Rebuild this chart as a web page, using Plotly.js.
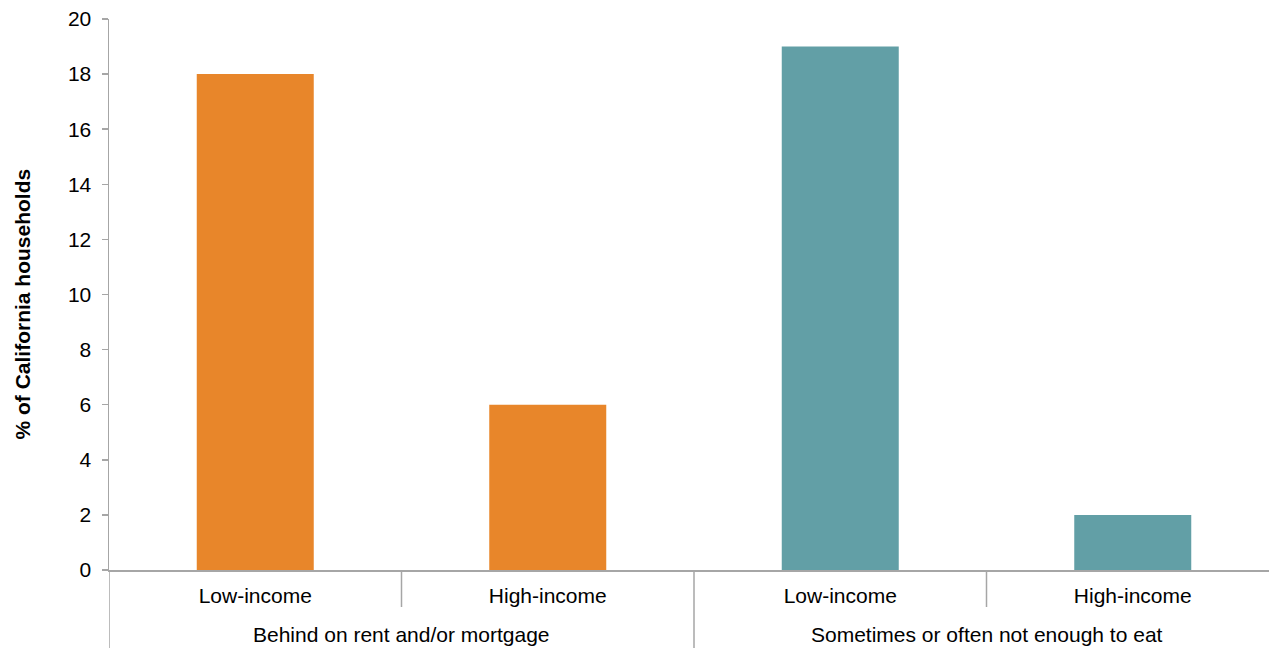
<!DOCTYPE html>
<html><head><meta charset="utf-8">
<script src="https://cdn.plot.ly/plotly-3.0.1.min.js"></script>
<style>html,body{margin:0;padding:0;overflow:hidden;background:#fff}</style>
</head><body>
<div id="chart" style="width:1290px;height:648px"></div>
<script>
const categories = ["Low-income", "High-income", "Low-income ", "High-income "];
const tickLabels = ["Low-income", "High-income", "Low-income", "High-income"];
const groups = ["Behind on rent and/or mortgage", "Sometimes or often not enough to eat"];
const values = [18, 6, 19, 2];
const barColors = ["#E8862A", "#E8862A", "#629FA6", "#629FA6"];

const gray = "#A6A6A6";
const font = "Liberation Sans, Arial, sans-serif";
const fs = 21;
const plotH = 648 - 19 - 78;

const shapes = [];
const divs = [[-0.5, 78], [0.5, 37], [1.5, 78], [2.5, 37]];
divs.forEach(d => shapes.push({type: "line", xref: "x", yref: "paper", x0: d[0], x1: d[0], y0: 0, y1: -d[1] / plotH, line: {color: gray, width: 1.5}}));

const annotations = groups.map((g, i) => ({
  text: g, xref: "x", yref: "paper", x: i * 2 + 0.5, y: -64 / plotH, showarrow: false,
  xanchor: "center", yanchor: "middle", font: {family: font, size: fs, color: "#000"}
}));
annotations.push({
  text: "<b>% of California households</b>", xref: "paper", yref: "paper", x: 0, y: 0.5,
  xshift: -87, yshift: -10, textangle: -90, showarrow: false, xanchor: "center", yanchor: "middle",
  font: {family: font, size: fs, color: "#000"}
});

Plotly.newPlot("chart", [{
  type: "bar", x: categories, y: values, marker: {color: barColors}, width: 0.4, hoverinfo: "none"
}], {
  width: 1290, height: 648,
  margin: {l: 109, r: 11, t: 19, b: 78},
  paper_bgcolor: "#fff", plot_bgcolor: "#fff",
  showlegend: false,
  font: {family: font, size: fs, color: "#000"},
  xaxis: {
    type: "category", categoryarray: categories, tickvals: categories, ticktext: tickLabels,
    range: [-0.5, 3.5], showline: true, linecolor: gray, linewidth: 1.5,
    ticks: "", showgrid: false, zeroline: false, ticklabelstandoff: 6,
    tickfont: {family: font, size: fs, color: "#000"}
  },
  yaxis: {
    range: [0, 20], dtick: 2, showline: true, linecolor: gray, linewidth: 1.5,
    ticks: "outside", ticklen: 6, tickcolor: gray, tickwidth: 1.5,
    showgrid: false, zeroline: false, ticklabelstandoff: 6,
    tickfont: {family: font, size: fs, color: "#000"}
  },
  shapes: shapes, annotations: annotations
}, {staticPlot: true});
</script>
</body></html>
